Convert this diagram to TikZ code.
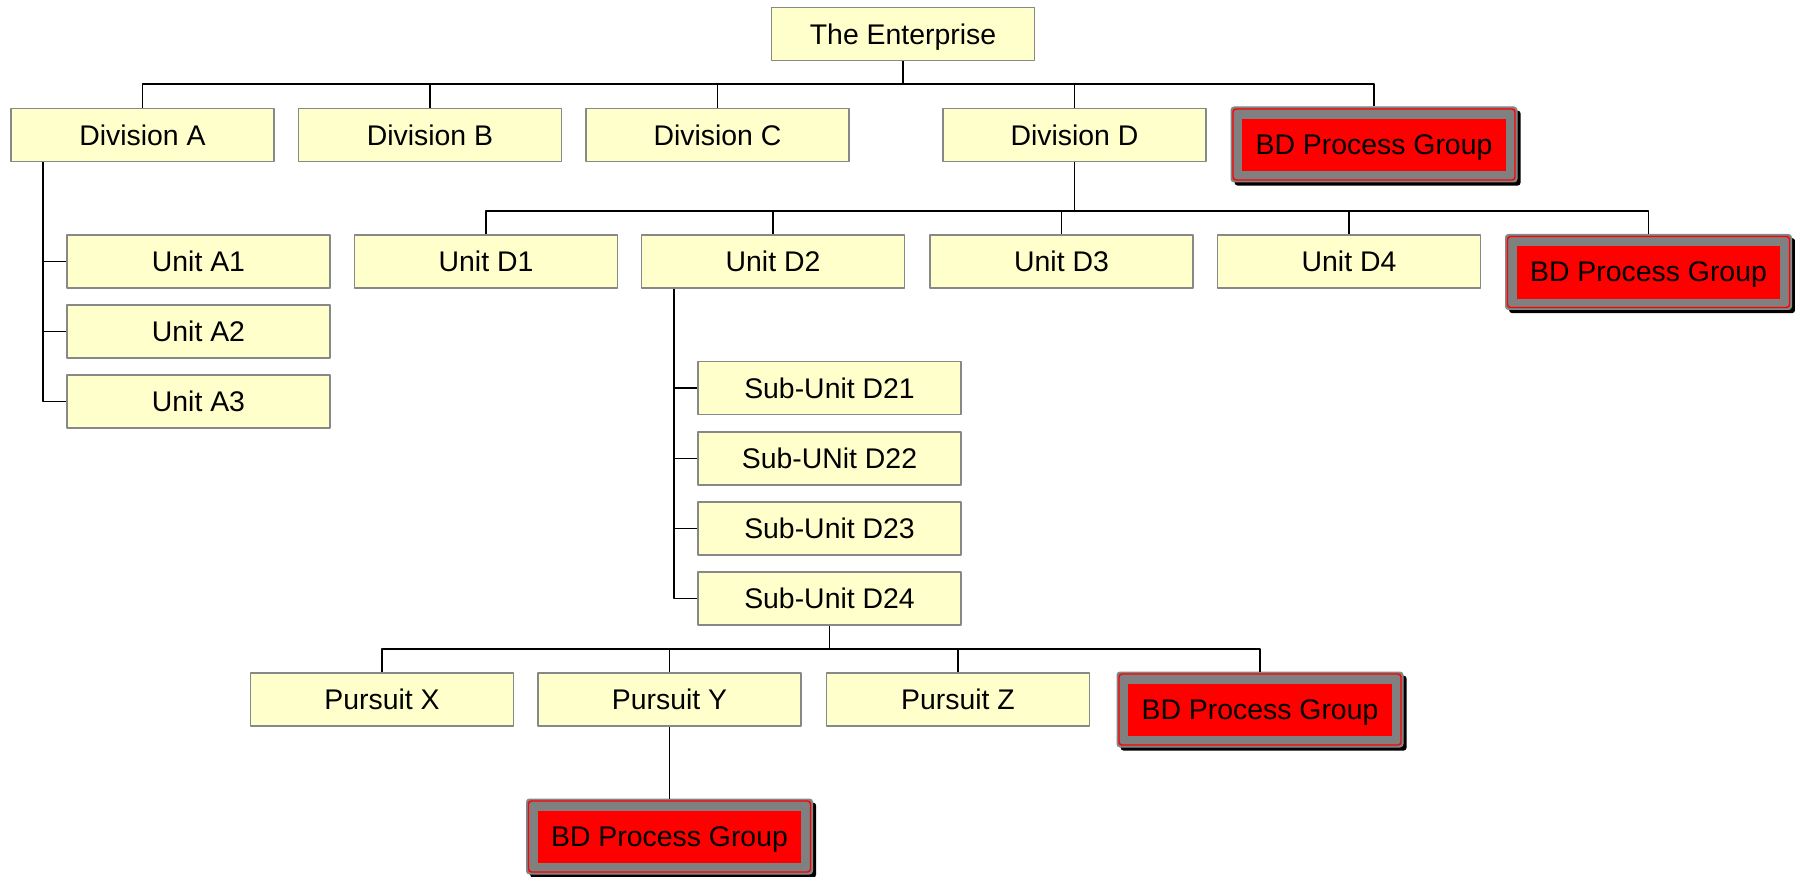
\documentclass[tikz,border=0pt]{standalone}
\usepackage{fontspec}
\setmainfont{Liberation Sans}
\usetikzlibrary{shadows}
\definecolor{boxfill}{RGB}{255,255,204}
\definecolor{boxgray}{RGB}{136,136,136}
\definecolor{framegray}{RGB}{128,128,128}
\begin{document}
\begin{tikzpicture}[x=0.5pt, y=-0.5pt, font=\fontsize{14.2}{16}\selectfont, line join=round,
	unit/.style={draw=boxgray, fill=boxfill, line width=0.8pt, minimum width=131.5pt, minimum height=26.5pt, inner sep=0pt, text depth=0pt},
	bdgroup/.style={draw=boxgray, fill=framegray, line width=0.5pt, rounded corners=1.5pt, minimum width=143pt, minimum height=37.5pt, inner sep=0pt, text depth=0pt,
		drop shadow={shadow xshift=1.8pt, shadow yshift=-1.8pt, fill=black, opacity=1},
		path picture={
			\draw[red, line width=0.7pt] ([shift={(1pt,1pt)}]path picture bounding box.south west) rectangle ([shift={(-1pt,-1pt)}]path picture bounding box.north east);
			\fill[red, sharp corners] ([shift={(5.6pt,5.4pt)}]path picture bounding box.south west) rectangle ([shift={(-5.6pt,-5.8pt)}]path picture bounding box.north east);
		}},
	link/.style={line width=0.95pt}]
	\useasboundingbox (0,0) rectangle (1795,877);
	% levels of the bars and side stems
	\coordinate (bar1) at (0,84);
	\coordinate (bar2) at (0,211);
	\coordinate (bar3) at (0,649);
	\coordinate (sA) at (43,0);
	\coordinate (sD) at (674,0);
	% boxes
	\node[unit] (ent) at (903,34) {The Enterprise};
	\foreach \n/\x/\lbl in {divA/142.5/Division A, divB/430/Division B, divC/717.5/Division C, divD/1074.5/Division D}
		\node[unit] (\n) at (\x,135) {\lbl};
	\node[bdgroup] (bd1) at (1374,144.5) {BD Process Group};
	\foreach \n/\y/\lbl in {uA1/261.5/Unit A1, uA2/331.5/Unit A2, uA3/401.5/Unit A3}
		\node[unit] (\n) at (198.5,\y) {\lbl};
	\foreach \n/\x/\lbl in {uD1/486/Unit D1, uD2/773/Unit D2, uD3/1061.5/Unit D3, uD4/1349/Unit D4}
		\node[unit] (\n) at (\x,261.5) {\lbl};
	\node[bdgroup] (bd2) at (1648.5,272) {BD Process Group};
	\foreach \n/\y/\lbl in {sD21/388/Sub-Unit D21, sD22/458.5/Sub-UNit D22, sD23/528.5/Sub-Unit D23, sD24/598.5/Sub-Unit D24}
		\node[unit] (\n) at (829.5,\y) {\lbl};
	\foreach \n/\x/\lbl in {pX/382/Pursuit X, pY/669.5/Pursuit Y, pZ/958/Pursuit Z}
		\node[unit] (\n) at (\x,699.5) {\lbl};
	\node[bdgroup] (bd3) at (1260,709.5) {BD Process Group};
	\node[bdgroup] (bd4) at (669.5,836.5) {BD Process Group};
	% connectors
	\foreach \c in {divA,divB,divC,divD,bd1}
		\draw[link] (ent.south) -- (ent.south |- bar1) -| (\c.north);
	\foreach \c in {uD1,uD2,uD3,uD4,bd2}
		\draw[link] (divD.south) -- (divD.south |- bar2) -| (\c.north);
	\foreach \c in {pX,pY,pZ,bd3}
		\draw[link] (sD24.south) -- (sD24.south |- bar3) -| (\c.north);
	\draw[link] (pY.south) -- (bd4.north);
	\draw[link] (divA.south -| sA) |- (uA3.west);
	\foreach \c in {uA1,uA2}
		\draw[link] (\c.west) -- (\c.west -| sA);
	\draw[link] (uD2.south -| sD) |- (sD24.west);
	\foreach \c in {sD21,sD22,sD23}
		\draw[link] (\c.west) -- (\c.west -| sD);
\end{tikzpicture}
\end{document}
